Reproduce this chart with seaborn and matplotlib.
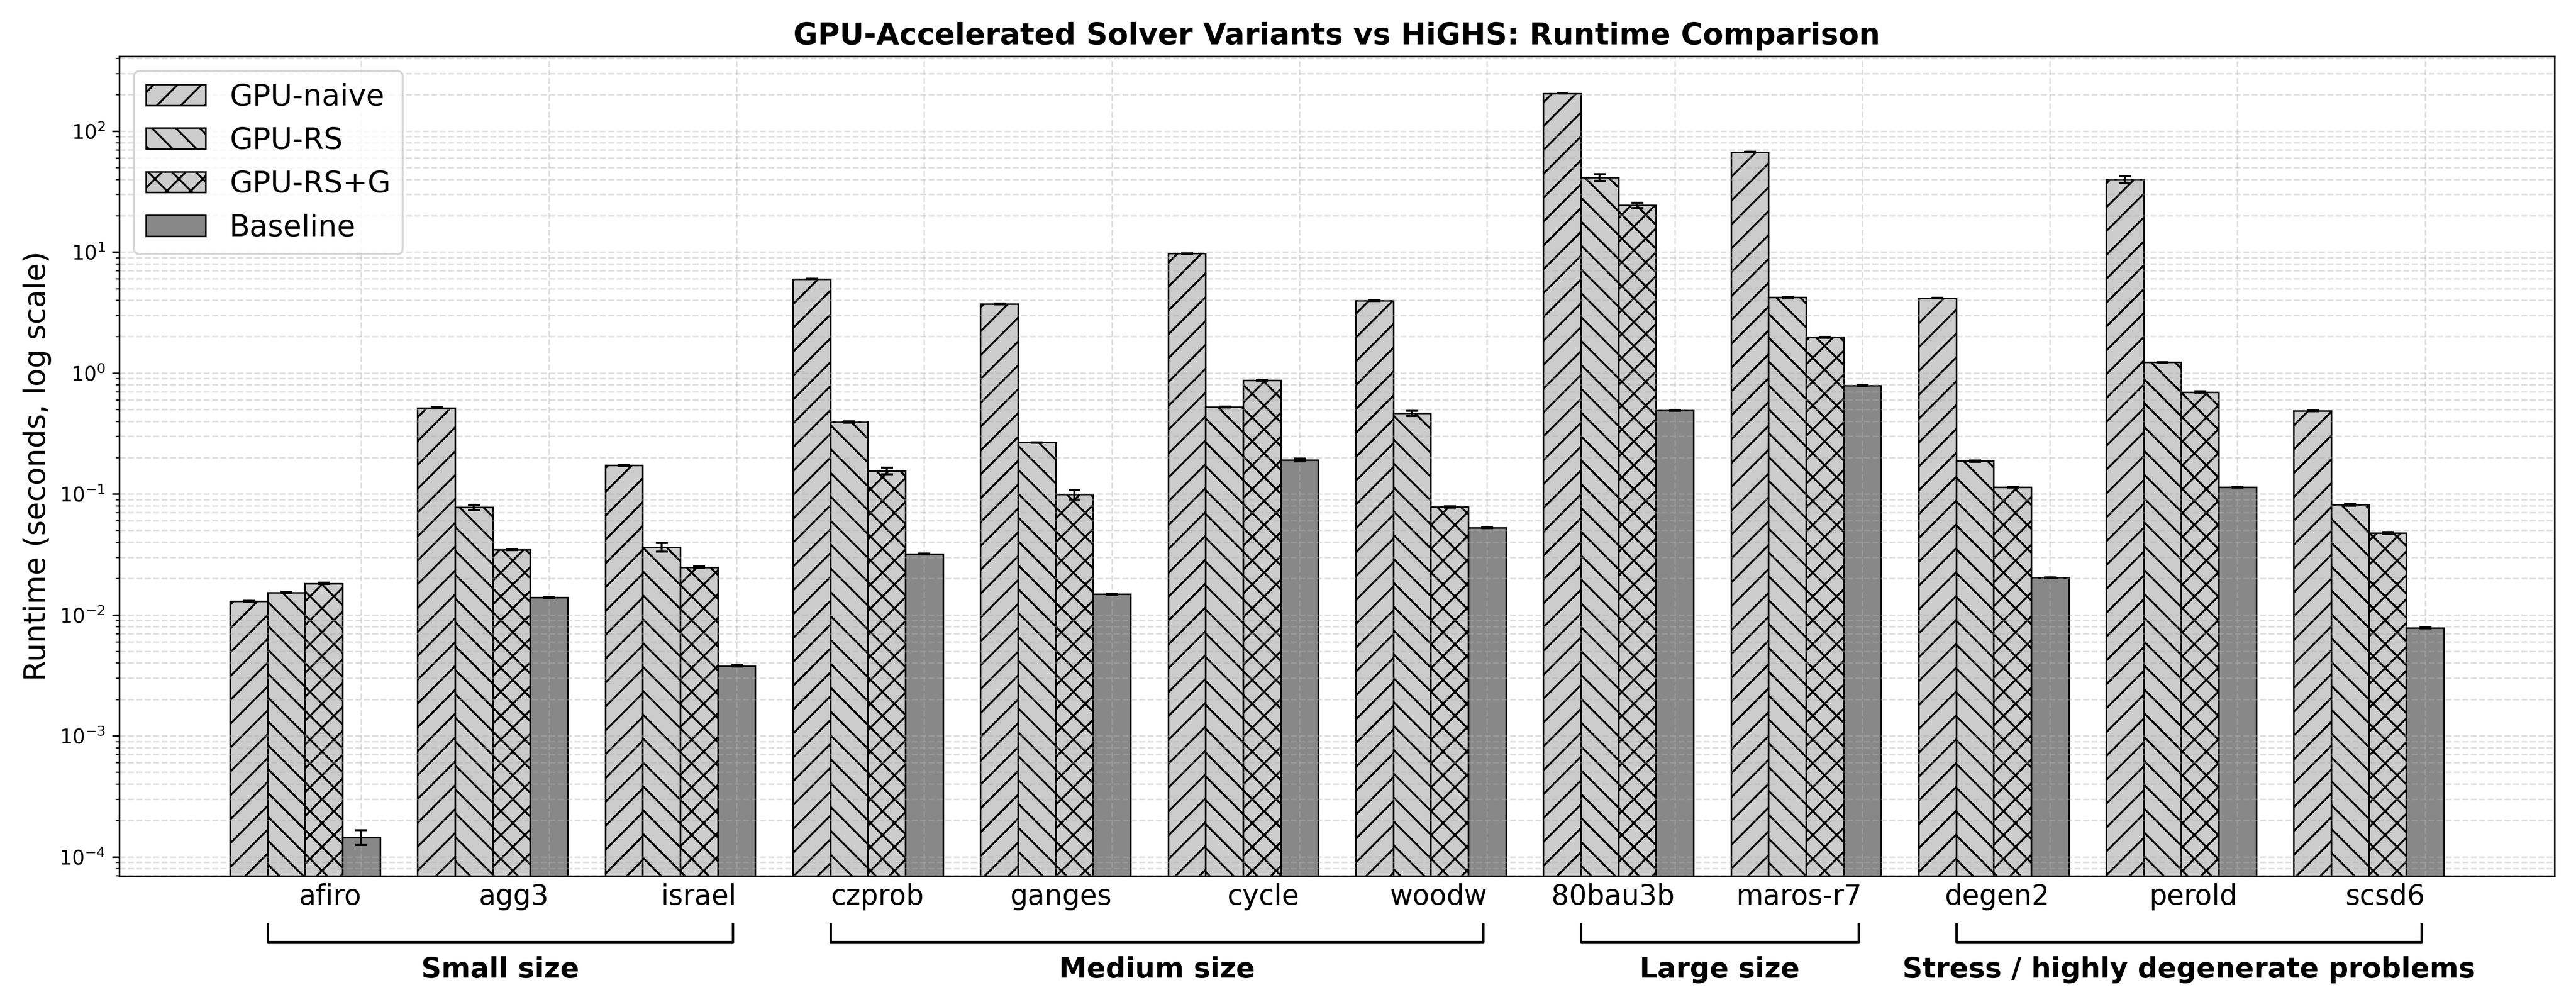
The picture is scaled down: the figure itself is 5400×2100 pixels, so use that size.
# %% GPU solver variants vs HiGHS - runtime comparison (log scale)
import numpy as np
import pandas as pd
import seaborn as sns
import matplotlib.pyplot as plt

# %% 1. DATA
problems = ['afiro', 'agg3', 'israel', 'czprob', 'ganges', 'cycle', 'woodw',
            '80bau3b', 'maros-r7', 'degen2', 'perold', 'scsd6']
variants = ['GPU-naive', 'GPU-RS', 'GPU-RS+G', 'Baseline']

# mean runtime (seconds)
gpu_naive = [0.0130, 0.516, 0.172, 5.99, 3.72, 9.72, 3.96, 205.0, 67.2, 4.16, 39.9, 0.485]
gpu_rs    = [0.0153, 0.0776, 0.0363, 0.394, 0.266, 0.525, 0.463, 41.4, 4.22, 0.1866, 1.224, 0.0811]
gpu_rsg   = [0.0182, 0.0345, 0.0248, 0.1555, 0.0989, 0.869, 0.0782, 24.4, 1.975, 0.1138, 0.696, 0.0474]
baseline  = [1.45e-4, 0.0139, 0.00378, 0.0318, 0.0148, 0.191, 0.0527, 0.492, 0.788, 0.0202, 0.1138, 0.00782]

# std over runs
naive_err = [0.0001, 0.005, 0.002, 0.03, 0.03, 0.05, 0.04, 1.0, 0.4, 0.02, 2.6, 0.004]
rs_err    = [0.0001, 0.004, 0.003, 0.006, 0.002, 0.005, 0.024, 2.6, 0.03, 0.002, 0.01, 0.0015]
rsg_err   = [0.0002, 0.0003, 0.0003, 0.01, 0.009, 0.01, 0.001, 1.2, 0.02, 0.001, 0.008, 0.0008]
base_err  = [0.2e-4, 0.0002, 0.00005, 0.0003, 0.0002, 0.005, 0.0005, 0.004, 0.008, 0.0002, 0.001, 0.0001]

# problem groups (name, first idx, last idx)
group_names = ['Small size', 'Medium size', 'Large size', 'Stress / highly degenerate problems']
group_first = [0, 3, 7, 9]
group_last  = [2, 6, 8, 11]

df = pd.DataFrame({
    'problem': np.tile(problems, len(variants)),
    'variant': np.repeat(variants, len(problems)),
    'runtime': gpu_naive + gpu_rs + gpu_rsg + baseline,
    'err':     naive_err + rs_err + rsg_err + base_err,
})

# %% 2. PLOT
fig, ax = plt.subplots(figsize=(18, 7), dpi=300)
fig.subplots_adjust(left=0.0463, right=0.9917, top=0.944, bottom=0.1257)

palette = {'GPU-naive': '#cccccc', 'GPU-RS': '#cccccc', 'GPU-RS+G': '#cccccc', 'Baseline': '#888888'}
hatches = ['//', '\\\\', 'xx', '']

# draw on linear scale, switch to log afterwards (bars start at 0)
sns.barplot(data=df, x='problem', y='runtime', hue='variant',
            order=problems, hue_order=variants, palette=palette,
            errorbar=None, width=0.8, edgecolor='black', linewidth=0.8,
            legend=False, ax=ax)

# hatches + error bars per variant
for cont, h, var in zip(ax.containers, hatches, variants):
    sub = df[df['variant'] == var].set_index('problem')
    xs, ys, es = [], [], []
    for p in cont.patches:
        p.set_hatch(h)
        idx = int(round(p.get_x() + p.get_width() / 2))
        xs.append(p.get_x() + p.get_width() / 2)
        ys.append(sub.loc[problems[idx], 'runtime'])
        es.append(sub.loc[problems[idx], 'err'])
    ax.errorbar(xs, ys, yerr=es, fmt='none', ecolor='black', elinewidth=1, capsize=3)

ax.set_yscale('log')
ax.set_ylim(6.92e-5, 417)
ax.set_xlim(-0.99, 11.99)

# labels sit right-aligned at the baseline bar
ax.set_xticks(np.arange(len(problems)) + 0.3)
ax.set_xticklabels(problems, ha='right', fontsize=14)
ax.tick_params(axis='x', length=0)

ax.set_xlabel('')
ax.set_ylabel('Runtime (seconds, log scale)', fontsize=15)
ax.set_title('GPU-Accelerated Solver Variants vs HiGHS: Runtime Comparison',
             fontsize=15, fontweight='bold')

ax.grid(True, which='both', linestyle='--', color='#b0b0b0', alpha=0.4, linewidth=0.8)
ax.xaxis.grid(True, which='major', linestyle='--', color='#b0b0b0', alpha=0.4, linewidth=0.8)

ax.legend(handles=ax.containers, labels=variants, loc='upper left', fontsize=15)

# group brackets under the tick labels
trans = ax.get_xaxis_transform()
for name, a, b in zip(group_names, group_first, group_last):
    x0, x1 = a - 0.2, b + 0.28
    ax.plot([x0, x0, x1, x1], [-0.059, -0.080, -0.080, -0.059],
            color='black', linewidth=1.2, transform=trans, clip_on=False)
    ax.text((x0 + x1) / 2, -0.098, name, transform=trans, ha='center', va='top',
            fontsize=14, fontweight='bold')

fig.savefig('out.png', dpi=300)
